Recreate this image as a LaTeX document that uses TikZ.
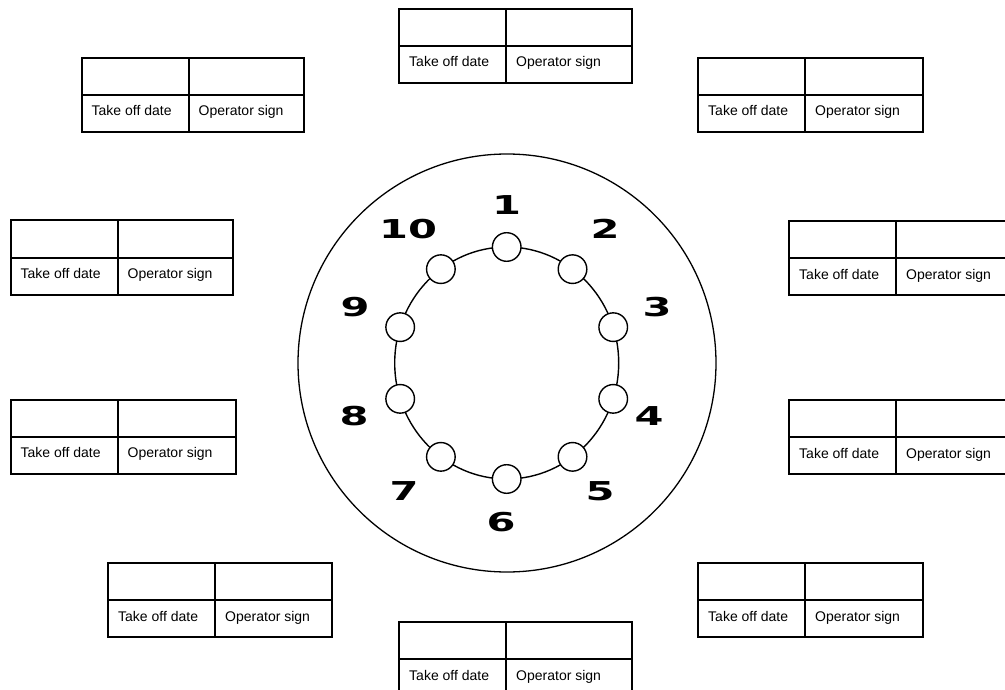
\documentclass[tikz,border=0pt]{standalone}
\usepackage{fontspec}
\usepackage{graphicx}
\setmainfont{Liberation Sans}
\newfontfamily\digitfont{DejaVu Sans}
\usetikzlibrary{calc}

\begin{document}
\begin{tikzpicture}[x=1pt, y=-1pt,
    cellbox/.style={rectangle, draw, line width=2pt, outer sep=0pt, inner sep=0pt,
                    minimum height=37pt, anchor=north west},
    celltxt/.style={anchor=base west, inner sep=0pt, font=\fontsize{14}{16}\selectfont},
    pin/.style={circle, draw, line width=1.4pt, fill=white,
                minimum size=28.6pt, inner sep=0pt},
    num/.style={inner sep=0pt, font=\digitfont\bfseries\fontsize{26}{26}\selectfont}]

    \useasboundingbox (0,0) rectangle (1005,690);

    % log tables round the flange
    \foreach \tx/\ty/\rw [count=\i] in {81.5/58/115, 399/9/126, 698/58/118,
                                        10.5/220.5/115, 789/221/126,
                                        10.5/399.5/118, 789/400/126,
                                        108/563/117, 698/563/118, 399/622/126}{
        \node[cellbox, minimum width=107pt] (t\i-a) at (\tx,\ty) {};
        \node[cellbox, minimum width=\rw pt] (t\i-b) at (t\i-a.north east) {};
        \node[cellbox, minimum width=107pt] (t\i-c) at (t\i-a.south west) {};
        \node[cellbox, minimum width=\rw pt] (t\i-d) at (t\i-c.north east) {};
        \node[celltxt] (t\i-date) at ([xshift=10pt, yshift=16pt]t\i-c.south west) {Take off date};
        \node[celltxt] (t\i-sign) at ([xshift=10pt, yshift=16pt]t\i-d.south west) {Operator sign};
    }

    % flange and bolt ring
    \coordinate (ctr) at (507,363);
    \coordinate (ring) at (506.7,363);
    \draw[line width=1.3pt] (ctr) circle [radius=209];
    \draw[line width=1.4pt] (ring) ellipse [x radius=112, y radius=116];

    \foreach \i in {1,...,10}{
        \pgfmathsetmacro{\a}{90-36*(\i-1)}
        \node[pin] (p\i) at ({506.7+112*cos(\a)},{363-116*sin(\a)}) {};
    }

    % bolt numbers
    \foreach \nx/\ny [count=\i] in {506.7/205, 605/229, 657/307, 649/416, 600/491,
                                   501/522, 404/491, 354/416, 355/307, 408/229}{
        \node[num] (n\i) at (\nx,\ny) {\scalebox{1.6}[1]{\i}};
    }

\end{tikzpicture}
\end{document}
